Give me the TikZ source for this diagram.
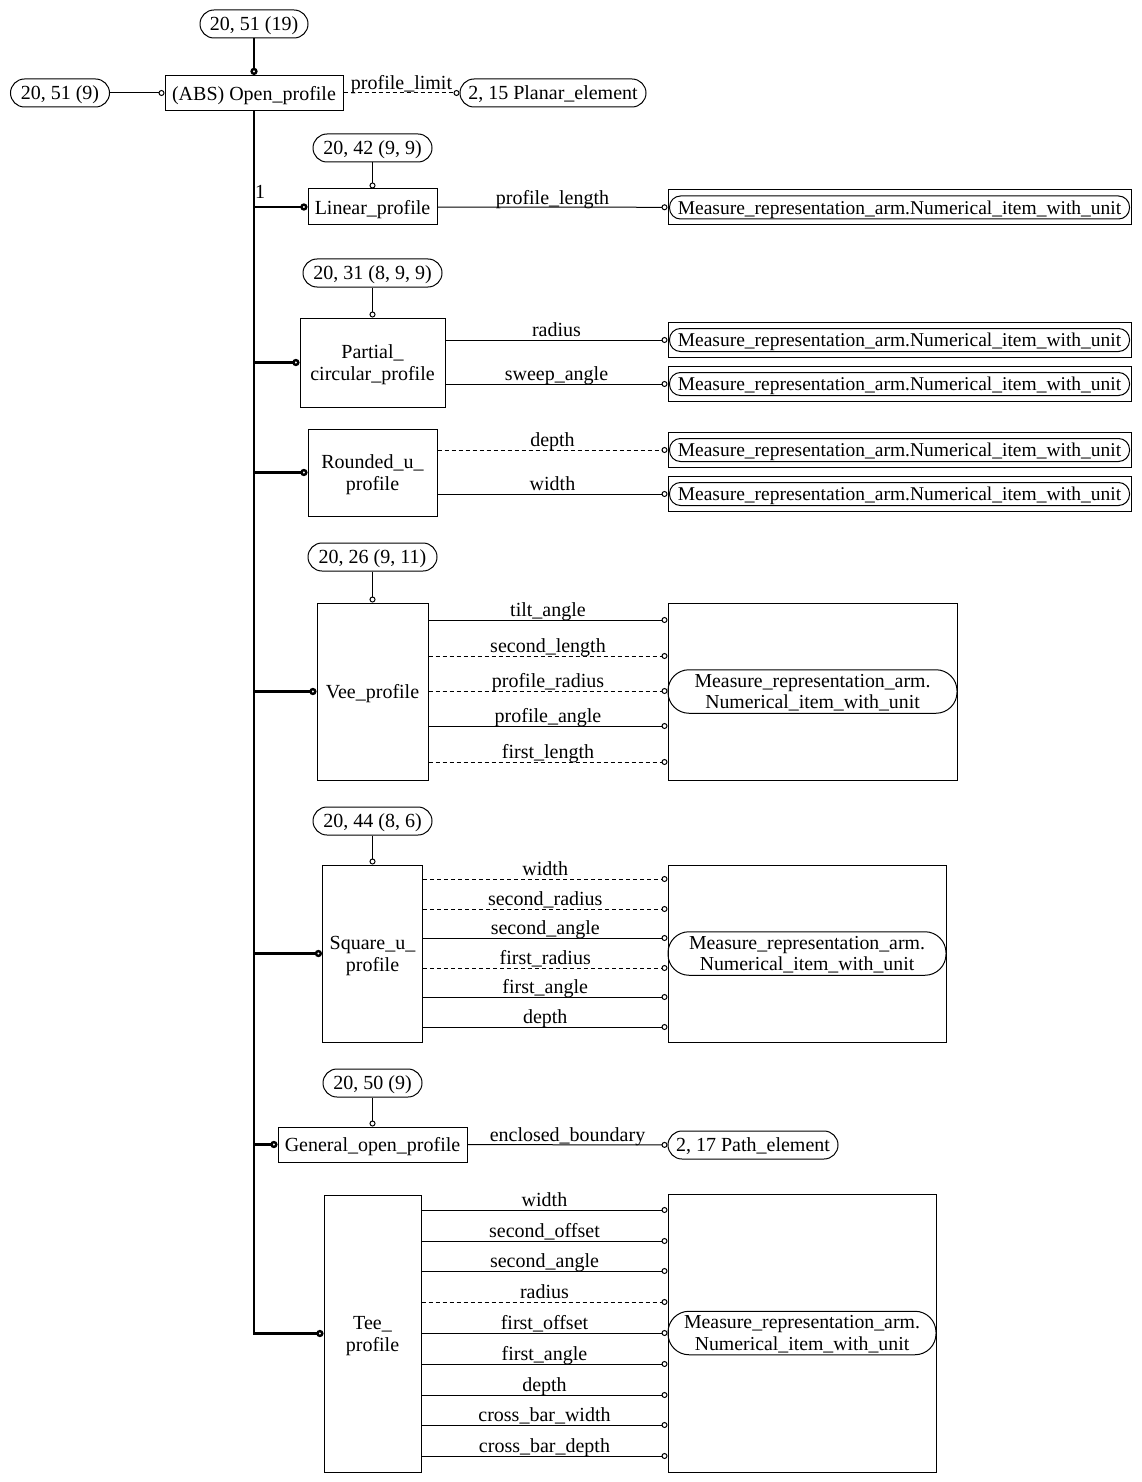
\documentclass[tikz,border=0pt]{standalone}
\usepackage{fontspec}
\setmainfont{Liberation Serif}
\usetikzlibrary{arrows.meta}

\tikzset{
  box/.style={draw, rectangle, line width=0.5pt, text depth=0pt},
  refbox/.style={draw, rectangle, rounded corners=7pt, line width=0.5pt, minimum height=14pt, text depth=0pt},
  mbox/.style={draw, rectangle, rounded corners=5.5pt, line width=0.5pt, minimum height=11.5pt,
    text depth=0pt, font=\fontsize{9.75}{11}\selectfont},
  mmbox/.style={draw, rectangle, rounded corners=10.5pt, line width=0.5pt, minimum height=21.75pt,
    text depth=0pt, font=\fontsize{9.9}{10.6}\selectfont},
  attr/.style={line width=0.5pt, -{Circle[open,length=3pt]}},
  dsh/.style={dash pattern=on 2pt off 1.5pt},
  trunk/.style={line width=1.2pt},
  sub/.style={trunk, -{Circle[open,length=3.6pt]}},
  lab/.style={midway, above=1.3pt, text depth=0pt}
}

\begin{document}
\begin{tikzpicture}[x=0.5pt,y=-0.5pt,
  every node/.style={font=\fontsize{10}{11}\selectfont, inner sep=0pt, align=center}]

\useasboundingbox (0,0) rectangle (1141,1482);

% supertype
\node[refbox, minimum width=54pt] (top19) at (254,24) {20, 51 (19)};
\node[box, minimum width=89pt, minimum height=17.5pt] (open) at (254,93) {(ABS) Open\_profile};
\node[refbox, minimum width=49.5pt] (top9) at (60,93) {20, 51 (9)};
\node[refbox, minimum width=93pt] (planar) at (553,93) {2, 15 Planar\_element};

% subtypes
\node[box, minimum width=64.5pt, minimum height=18pt] (lin) at (372.5,207) {Linear\_profile};
\node[refbox, minimum width=59.5pt] (linref) at (372.5,148) {20, 42 (9, 9)};
\node[box, minimum width=72.5pt, minimum height=44.5pt] (pc) at (372.5,362.5) {Partial\_\\circular\_profile};
\node[refbox, minimum width=69.5pt] (pcref) at (372.5,273) {20, 31 (8, 9, 9)};
\node[box, minimum width=64.5pt, minimum height=43.5pt] (ru) at (372.5,472.5) {Rounded\_u\_\\profile};
\node[box, minimum width=55.5pt, minimum height=88.5pt] (vee) at (372.5,691.5) {Vee\_profile};
\node[refbox, minimum width=64.5pt] (veeref) at (372.5,557) {20, 26 (9, 11)};
\node[box, minimum width=50pt, minimum height=88.5pt] (squ) at (372.5,953.5) {Square\_u\_\\profile};
\node[refbox, minimum width=59.5pt] (squref) at (372.5,821) {20, 44 (8, 6)};
\node[box, minimum width=94.5pt, minimum height=17.5pt] (gen) at (372.5,1144.5) {General\_open\_profile};
\node[refbox, minimum width=49.5pt] (genref) at (372.5,1083) {20, 50 (9)};
\node[refbox, minimum width=85pt] (path) at (753,1145) {2, 17 Path\_element};
\node[box, minimum width=48.5pt, minimum height=138.5pt] (tee) at (372.5,1333.5) {Tee\_\\profile};
\node (mult) at (260,192) {1};

% measure targets
\foreach \n/\y in {m1/207.5, m2/340, m3/384, m4/450, m5/494} {
  \node[box, minimum width=231.5pt, minimum height=17.5pt] (\n) at (899.5,\y) {};
  \node[mbox, minimum width=230pt] at (\n) {Measure\_representation\_arm.Numerical\_item\_with\_unit};
}
\node[box, minimum width=144.5pt, minimum height=88.5pt] (veeM) at (812.5,691.5) {};
\node[mmbox, minimum width=144.5pt] at (veeM) {Measure\_representation\_arm.\\Numerical\_item\_with\_unit};
\node[box, minimum width=139pt, minimum height=88.5pt] (squM) at (807,953.5) {};
\node[mmbox, minimum width=139pt] at (squM) {Measure\_representation\_arm.\\Numerical\_item\_with\_unit};
\node[box, minimum width=134pt, minimum height=139pt] (teeM) at (802,1333) {};
\node[mmbox, minimum width=134pt] at (teeM) {Measure\_representation\_arm.\\Numerical\_item\_with\_unit};

% tree
\draw[sub] (top19.south) -- (open.north);
\draw[attr] (top9) -- (open);
\draw[attr,dsh] (open) -- node[lab]{profile\_limit} (planar);
\draw[sub] (open.south) |- (tee.west);
\foreach \n in {lin,pc,ru,vee,squ,gen}
  \draw[sub] (open.south |- \n.west) -- (\n.west);
\foreach \n in {lin,pc,vee,squ,gen}
  \draw[attr] (\n ref.south) -- (\n.north);

% attributes
\draw[attr] (lin) -- node[lab]{profile\_length} (m1);
\draw[attr] (pc.east |- m2) -- node[lab]{radius} (m2);
\draw[attr] (pc.east |- m3) -- node[lab]{sweep\_angle} (m3);
\draw[attr,dsh] (ru.east |- m4) -- node[lab]{depth} (m4);
\draw[attr] (ru.east |- m5) -- node[lab]{width} (m5);
\foreach \y/\atname/\sty in {620/tilt\_angle/solid, 656/second\_length/dsh,
    691/profile\_radius/dsh, 726/profile\_angle/solid, 762/first\_length/dsh}
  \draw[attr,\sty] (vee.east |- 0,\y) -- node[lab]{\atname} (veeM.west |- 0,\y);
\foreach \y/\atname/\sty in {879/width/dsh, 909/second\_radius/dsh, 938/second\_angle/solid,
    968/first\_radius/dsh, 997/first\_angle/solid, 1027/depth/solid}
  \draw[attr,\sty] (squ.east |- 0,\y) -- node[lab]{\atname} (squM.west |- 0,\y);
\draw[attr] (gen) -- node[lab]{enclosed\_boundary} (path);
\foreach \y/\atname/\sty in {1210/width/solid, 1241/second\_offset/solid, 1271/second\_angle/solid,
    1302/radius/dsh, 1333/first\_offset/solid, 1364/first\_angle/solid, 1395/depth/solid,
    1425/cross\_bar\_width/solid, 1456/cross\_bar\_depth/solid}
  \draw[attr,\sty] (tee.east |- 0,\y) -- node[lab]{\atname} (teeM.west |- 0,\y);

\end{tikzpicture}
\end{document}
